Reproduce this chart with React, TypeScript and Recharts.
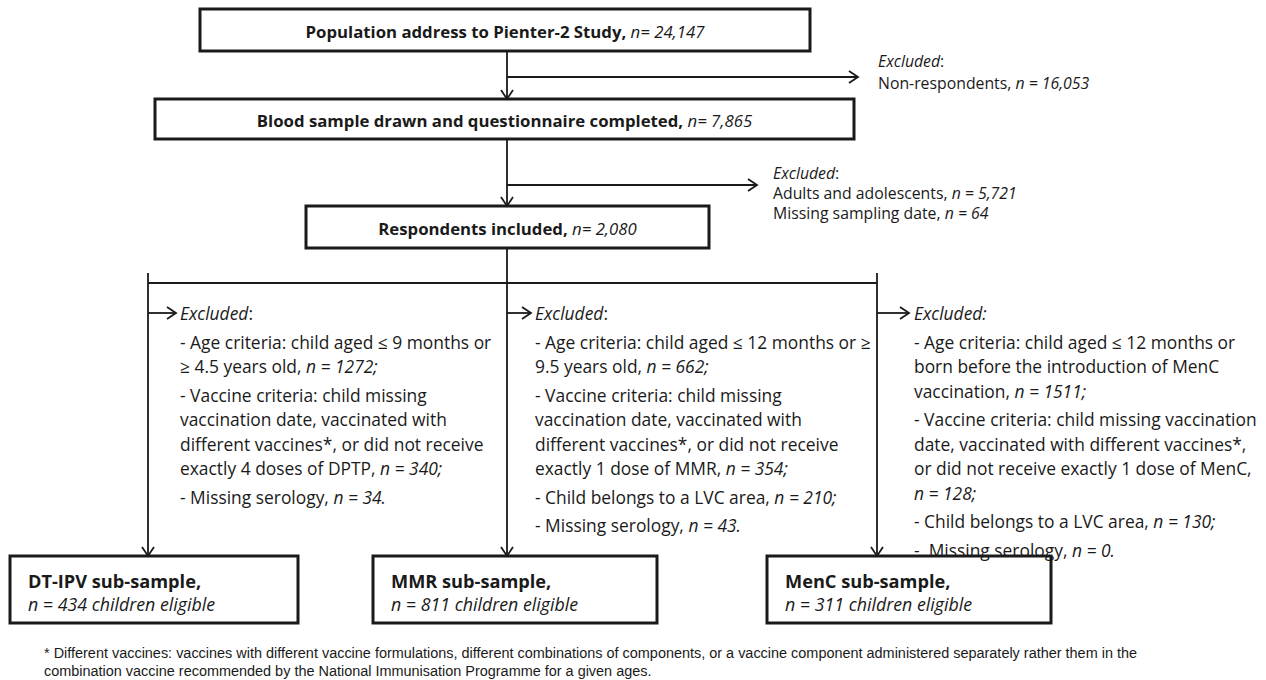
import { ScatterChart, Scatter, XAxis, YAxis, ReferenceArea, ReferenceLine } from 'recharts'

const W = 1266
const H = 680

// ---- content ----
const stageLabels = [
  '<b>Population address to Pienter-2 Study,</b><i> n= 24,147</i>',
  '<b>Blood sample drawn and questionnaire completed,</b><i> n= 7,865</i>',
  '<b>Respondents included,</b><i> n= 2,080</i>',
]

const firstExclusion = ['<i>Excluded</i>:', 'Non-respondents, <i>n = 16,053</i>']
const secondExclusion = [
  '<i>Excluded</i>:',
  'Adults and adolescents, <i>n = 5,721</i>',
  'Missing sampling date, <i>n = 64</i>',
]

const dtipvExclusion = [
  '<i>Excluded</i>:',
  '- Age criteria: child aged ≤ 9 months or',
  '≥ 4.5 years old, <i>n = 1272;</i>',
  '- Vaccine criteria: child missing',
  'vaccination date, vaccinated with',
  'different vaccines*, or did not receive',
  'exactly 4 doses of DPTP, <i>n = 340;</i>',
  '- Missing serology, <i>n = 34.</i>',
]
const mmrExclusion = [
  '<i>Excluded</i>:',
  '- Age criteria: child aged ≤ 12 months or ≥',
  '9.5 years old, <i>n = 662;</i>',
  '- Vaccine criteria: child missing',
  'vaccination date, vaccinated with',
  'different vaccines*, or did not receive',
  'exactly 1 dose of MMR, <i>n = 354;</i>',
  '- Child belongs to a LVC area, <i>n = 210;</i>',
  '- Missing serology, <i>n = 43.</i>',
]
const mencExclusion = [
  '<i>Excluded:</i>',
  '- Age criteria: child aged ≤ 12 months or',
  'born before the introduction of MenC',
  'vaccination, <i>n = 1511;</i>',
  '- Vaccine criteria: child missing vaccination',
  'date, vaccinated with different vaccines*,',
  'or did not receive exactly 1 dose of MenC,',
  '<i>n = 128;</i>',
  '- Child belongs to a LVC area, <i>n = 130;</i>',
  '-  Missing serology, <i>n = 0.</i>',
]

const subSampleLabels = [
  ['<b>DT-IPV sub-sample,</b>', '<i>n = 434 children eligible</i>'],
  ['<b>MMR sub-sample,</b>', '<i>n = 811 children eligible</i>'],
  ['<b>MenC sub-sample,</b>', '<i>n = 311 children eligible</i>'],
]

const footnoteLines = [
  '* Different vaccines: vaccines with different vaccine formulations, different combinations of components, or a vaccine component administered separately rather them in the',
  'combination vaccine recommended by the National Immunisation Programme for a given ages.',
]

// ---- layout (pixel coords on the 1266x680 canvas) ----
const TRUNK = 507
const stageBoxes = [
  { x1: 200, x2: 810, y1: 9, y2: 51 },
  { x1: 155, x2: 854, y1: 99, y2: 139 },
  { x1: 306, x2: 709, y1: 206, y2: 248 },
]
const subBoxes = [
  { x1: 10, x2: 298, y1: 556, y2: 623 },
  { x1: 373, x2: 657, y1: 556, y2: 623 },
  { x1: 767, x2: 1051, y1: 556, y2: 623 },
]
const branchX = [148, TRUNK, 877]
const BRANCH_Y = 283

const FONT = '"Open Sans", Lato, sans-serif'
const NOTE_FONT = '"Liberation Sans", Arial, sans-serif'
const INK = '#1a1a1a'

type Seg = { t: string; b: boolean; i: boolean }
function parseRich(s: string): Seg[] {
  return s
    .split(/(<[bi]>.*?<\/[bi]>)/)
    .filter((p) => p.length > 0)
    .map((p) => {
      const m = p.match(/^<([bi])>(.*)<\/[bi]>$/)
      if (!m) return { t: p, b: false, i: false }
      return { t: m[2], b: m[1] === 'b', i: m[1] === 'i' }
    })
}

type TextItem = { x: number; y: number; text: string; anchor: string; size: number; font: string }
const texts: TextItem[] = []
const addText = (x: number, y: number, text: string, anchor = 'start', size = 17.4, font = FONT) =>
  texts.push({ x, y, text, anchor, size, font })

stageLabels.forEach((s, k) => {
  const b = stageBoxes[k]
  addText((b.x1 + b.x2) / 2, (b.y1 + b.y2) / 2 + 1, s, 'middle', 16.75)
})
firstExclusion.forEach((s, k) => addText(878, 61 + k * 22, s, 'start', 15.8))
secondExclusion.forEach((s, k) => addText(773, 173 + k * 20, s, 'start', 15.8))

const exclusionBlocks = [dtipvExclusion, mmrExclusion, mencExclusion]
const blockTextX = [180, 535, 914]
exclusionBlocks.forEach((lines, k) => {
  let y = 313
  lines.forEach((s, j) => {
    if (j > 0) y += s.startsWith('-') ? 28.5 : 24.5
    addText(blockTextX[k], y, s)
  })
})
subSampleLabels.forEach((pair, k) => {
  const b = subBoxes[k]
  addText(b.x1 + 18, b.y1 + 25, pair[0], 'start', 18.2)
  addText(b.x1 + 18, b.y1 + 48, pair[1], 'start', 17.8)
})
footnoteLines.forEach((s, k) => addText(44, 653 + k * 18, s, 'start', 14.45, NOTE_FONT))

type P = { x: number; y: number }
const connectors: [P, P][] = [
  [{ x: TRUNK, y: 51 }, { x: TRUNK, y: 99 }],
  [{ x: TRUNK, y: 77 }, { x: 858, y: 77 }],
  [{ x: TRUNK, y: 139 }, { x: TRUNK, y: 206 }],
  [{ x: TRUNK, y: 185 }, { x: 757, y: 185 }],
  [{ x: TRUNK, y: 248 }, { x: TRUNK, y: 556 }],
  [{ x: branchX[0], y: BRANCH_Y }, { x: branchX[2], y: BRANCH_Y }],
  [{ x: branchX[0], y: 273 }, { x: branchX[0], y: 556 }],
  [{ x: branchX[2], y: 273 }, { x: branchX[2], y: 556 }],
  [{ x: branchX[0], y: 313 }, { x: 176, y: 313 }],
  [{ x: TRUNK, y: 313 }, { x: 531, y: 313 }],
  [{ x: branchX[2], y: 313 }, { x: 909, y: 313 }],
]

type Head = { x: number; y: number; dir: 'down' | 'right' }
const heads: Head[] = [
  { x: TRUNK, y: 99, dir: 'down' },
  { x: 858, y: 77, dir: 'right' },
  { x: TRUNK, y: 206, dir: 'down' },
  { x: 757, y: 185, dir: 'right' },
  ...branchX.map((x) => ({ x, y: 556, dir: 'down' as const })),
  { x: 176, y: 313, dir: 'right' },
  { x: 531, y: 313, dir: 'right' },
  { x: 909, y: 313, dir: 'right' },
]

function TextShape(props: any) {
  const { cx, cy, payload } = props
  return (
    <text
      x={cx}
      y={cy}
      textAnchor={payload.anchor}
      dominantBaseline="central"
      fontFamily={payload.font}
      fontSize={payload.size}
      fill={INK}
      style={{ whiteSpace: 'pre' }}
    >
      {parseRich(payload.text).map((p, i) => (
        <tspan key={i} fontWeight={p.b ? 700 : 400} fontStyle={p.i ? 'italic' : 'normal'}>
          {p.t}
        </tspan>
      ))}
    </text>
  )
}

function HeadShape(props: any) {
  const { cx, cy, payload } = props
  const d =
    payload.dir === 'down'
      ? `M${cx - 6},${cy - 9} L${cx},${cy} L${cx + 6},${cy - 9}`
      : `M${cx - 9},${cy - 6} L${cx},${cy} L${cx - 9},${cy + 6}`
  return <path d={d} fill="none" stroke={INK} strokeWidth={1.8} />
}

export default function App() {
  return (
    <div style={{ position: 'absolute', left: 0, top: 0, width: W, height: H, background: '#fff' }}>
      <ScatterChart width={W} height={H} margin={{ top: 0, right: 0, bottom: 0, left: 0 }}>
        <XAxis type="number" dataKey="x" domain={[0, W]} hide />
        <YAxis type="number" dataKey="y" domain={[0, H]} reversed hide />
        {[...stageBoxes, ...subBoxes].map((b, i) => (
          <ReferenceArea
            key={`box-${i}`}
            x1={b.x1}
            x2={b.x2}
            y1={b.y1}
            y2={b.y2}
            stroke={INK}
            strokeWidth={3}
            fill="none"
            fillOpacity={0}
          />
        ))}
        {connectors.map((seg, i) => (
          <ReferenceLine key={`ln-${i}`} segment={seg} stroke={INK} strokeWidth={1.8} />
        ))}
        <Scatter data={heads} shape={HeadShape} isAnimationActive={false} />
        <Scatter data={texts} shape={TextShape} isAnimationActive={false} />
      </ScatterChart>
    </div>
  )
}
